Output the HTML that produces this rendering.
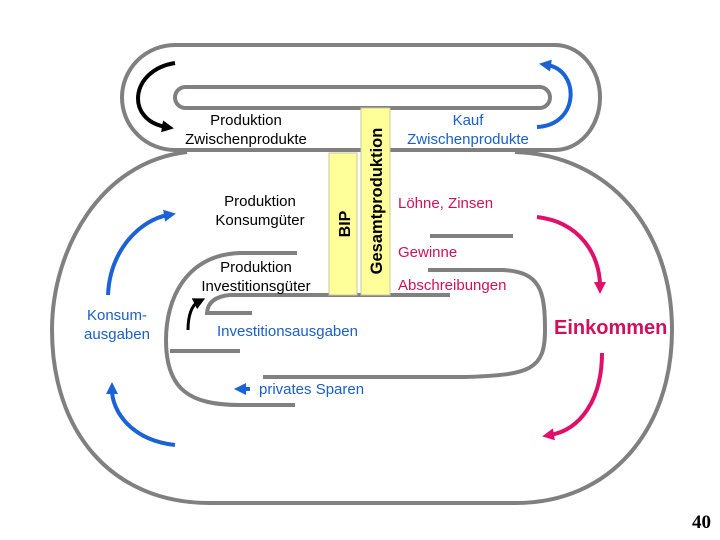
<!DOCTYPE html>
<html><head><meta charset="utf-8"><style>
body{margin:0;background:#fff}
svg{display:block}
text{font-family:"Liberation Sans",sans-serif;font-size:15px}
</style></head><body>
<svg width="720" height="540" viewBox="0 0 720 540">
<defs>
<marker id="ak" markerWidth="14" markerHeight="14" refX="4" refY="6" orient="auto" markerUnits="userSpaceOnUse"><path d="M0,0L12,6L0,12z" fill="#000"/></marker>
<marker id="ab" markerWidth="14" markerHeight="14" refX="4" refY="6" orient="auto" markerUnits="userSpaceOnUse"><path d="M0,0L12,6L0,12z" fill="#1a62d6"/></marker>
<marker id="am" markerWidth="14" markerHeight="14" refX="4" refY="6" orient="auto" markerUnits="userSpaceOnUse"><path d="M0,0L12,6L0,12z" fill="#e0106a"/></marker>
</defs>
<g fill="none" stroke="#808080" stroke-width="4">
<path d="M175,150 A53,52.5 0 0 1 175,45 L555,45 A45,52.5 0 0 1 555,150 Z"/>
<rect x="175" y="87" width="375" height="21" rx="10.5"/>
<path d="M187,152 C100,162 52,250 52,330 C52,430 110,503 210,503 L516,503 C610,503 672,430 672,330 C672,230 610,155 515,152"/>
<path d="M297,253 L240,253 C185,255 166,300 166,340 C166,390 190,405 240,405 L295,405"/>
<path d="M170,351 L240,351"/>
<path d="M450,295 L230,295 Q208,297 207,313 L252,313"/>
<path d="M430,236 L513,236"/>
<path d="M428,270 L503,270 C540,272 545,290 545,330 C545,370 530,375 465,377 L263,377"/>
</g>
<rect x="329" y="153" width="28" height="142" fill="#ffff99" stroke="#c8c8a0"/>
<rect x="361" y="108" width="29" height="187" fill="#ffff99" stroke="#c8c8a0"/>
<text transform="translate(350,224) rotate(-90)" text-anchor="middle" style="font-weight:bold;font-size:16px">BIP</text>
<text transform="translate(382,201) rotate(-90)" text-anchor="middle" style="font-weight:bold;font-size:16.5px">Gesamtproduktion</text>
<g fill="none" stroke-width="4">
<path d="M175,63 C130,70 125,120 166,127" stroke="#000" marker-end="url(#ak)"/>
<path d="M188,330 C188,315 192,305 198,302" stroke="#000" stroke-width="3" marker-end="url(#ak)"/>
<path d="M108,295 C110,250 140,220 168,215" stroke="#1a62d6" marker-end="url(#ab)"/>
<path d="M175,445 C130,440 112,410 112,390" stroke="#1a62d6" marker-end="url(#ab)"/>
<path d="M537,127 C580,125 580,70 547,65" stroke="#1a62d6" marker-end="url(#ab)"/>
<path d="M537,217 C580,222 600,255 600,286" stroke="#e0106a" marker-end="url(#am)"/>
<path d="M602,353 C602,400 580,430 550,435" stroke="#e0106a" marker-end="url(#am)"/>
<path d="M250,389 L242,389" stroke="#1a62d6" marker-end="url(#ab)"/>
</g>
<g text-anchor="middle" fill="#000">
<text x="246" y="125">Produktion</text><text x="246" y="144">Zwischenprodukte</text>
<text x="260" y="206">Produktion</text><text x="260" y="225">Konsumgüter</text>
<text x="256" y="272">Produktion</text><text x="256" y="291">Investitionsgüter</text>
</g>
<g text-anchor="middle" fill="#1a5fc8">
<text x="468" y="125">Kauf</text><text x="468" y="144">Zwischenprodukte</text>
<text x="117" y="320">Konsum-</text><text x="117" y="339">ausgaben</text>
</g>
<g fill="#1a5fc8">
<text x="217" y="336">Investitionsausgaben</text>
<text x="259" y="394">privates Sparen</text>
</g>
<g fill="#d0105a">
<text x="398" y="208">Löhne, Zinsen</text>
<text x="398" y="257">Gewinne</text>
<text x="398" y="290">Abschreibungen</text>
<text x="554" y="334" style="font-size:20px;font-weight:bold">Einkommen</text>
</g>
<text x="692" y="528" style="font-family:'Liberation Serif',serif;font-weight:bold;font-size:19px">40</text>
</svg>
</body></html>
